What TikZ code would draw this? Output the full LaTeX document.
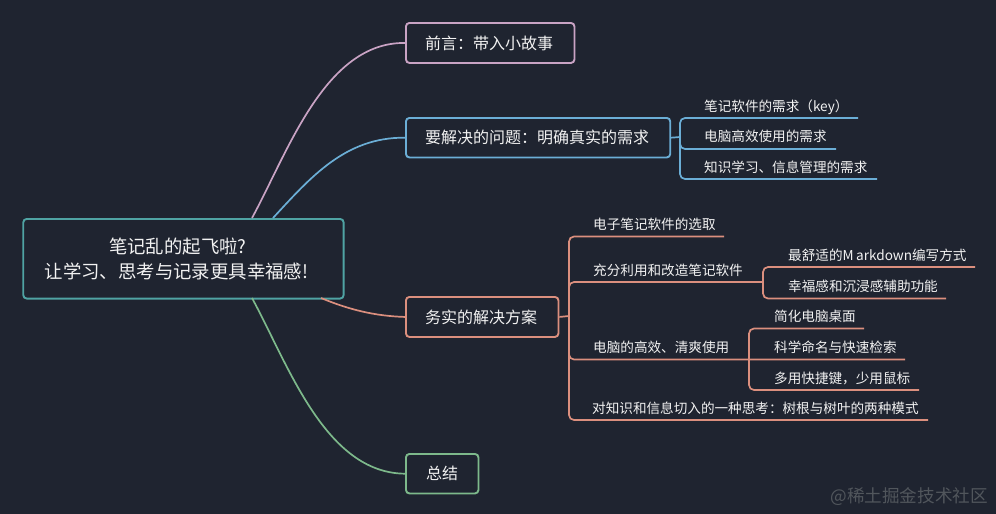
\documentclass[tikz,border=0pt]{standalone}
\usepackage{fontspec}
\setmainfont{Noto Sans CJK SC}[BoldFont={Noto Sans CJK SC}]
\definecolor{bgc}{HTML}{1F2430}
\definecolor{tealc}{HTML}{4FA3A3}
\definecolor{pinkc}{HTML}{C9A3C4}
\definecolor{bluec}{HTML}{6BAED6}
\definecolor{salmonc}{HTML}{DB8F7E}
\definecolor{greenc}{HTML}{7DB98B}
\definecolor{txtc}{HTML}{F2F2F2}
\definecolor{markc}{HTML}{51565C}
\tikzset{
  x=1pt,y=-1pt,
  topicbox/.style={draw,line width=1.9pt,rounded corners=3.5pt,text=txtc,font=\fontsize{16}{20}\selectfont,inner sep=0pt,anchor=north west,align=center},
  sublabel/.style={text=txtc,font=\fontsize{13.6}{16}\selectfont,inner sep=0pt,anchor=west,text height=12pt,text depth=1.8pt},
  curveline/.style={line width=1.7pt},
  branchline/.style={line width=1.7pt,rounded corners=5pt},
}
\begin{document}
\begin{tikzpicture}
\useasboundingbox (0,0) rectangle (996,514);
\fill[bgc] (0,0) rectangle (996,514);

% topic boxes
\node[topicbox,draw=tealc,minimum width=320.4pt,minimum height=79.6pt,font=\fontsize{18.4}{25}\selectfont] (root) at (22.3,218) {笔记乱的起飞啦?\hspace*{11pt}\\让学习、思考与记录更具幸福感!\hspace*{14pt}};
\node[topicbox,draw=pinkc,minimum width=168.5pt,minimum height=40pt] (n1) at (405,22) {前言：带入小故事\hspace*{2pt}};
\node[topicbox,draw=bluec,minimum width=264.3pt,minimum height=39.5pt] (n2) at (405,117) {要解决的问题：明确真实的需求\hspace*{2pt}};
\node[topicbox,draw=salmonc,minimum width=152.5pt,minimum height=40pt] (n3) at (405,296) {务实的解决方案\hspace*{2pt}};
\node[topicbox,draw=greenc,minimum width=72.5pt,minimum height=39.5pt] (n4) at (405,453) {总结};

% root connectors
\coordinate (r1) at (252,218);
\coordinate (r2) at (273,218);
\coordinate (r3) at (321,298);
\coordinate (r4) at (252,298);
\draw[curveline,pinkc] (r1) .. controls (288,152) and (325,42) .. (n1.west);
\draw[curveline,bluec] (r2) .. controls (310,178) and (345,137) .. (n2.west);
\draw[curveline,salmonc] (r3) .. controls (350,310) and (375,316) .. (n3.west);
\draw[curveline,greenc] (r4) .. controls (288,364) and (325,473) .. (n4.west);

% labels of n2
\node[sublabel] (a1) at (704,106) {笔记软件的需求（key）};
\node[sublabel] (a2) at (704,136) {电脑高效使用的需求};
\node[sublabel] (a3) at (704,167) {知识学习、信息管理的需求};
\coordinate (b2) at (680,137);
\coordinate (a1e) at (858,118);
\coordinate (a2e) at (836,149);
\coordinate (a3e) at (877,179);
\draw[curveline,bluec] (n2.east) -- (b2);
\draw[branchline,bluec] (b2) |- (a1e);
\draw[branchline,bluec] (b2) |- (a2e);
\draw[branchline,bluec] (b2) |- (a3e);

% labels of n3
\node[sublabel] (c1) at (593,224) {电子笔记软件的选取};
\node[sublabel] (c2) at (593,270) {充分利用和改造笔记软件};
\node[sublabel] (c3) at (593,347) {电脑的高效、清爽使用};
\node[sublabel] (c4) at (592,408) {对知识和信息切入的一种思考：树根与树叶的两种模式};
\coordinate (b3) at (569,316);
\coordinate (c1e) at (724,236.5);
\coordinate (c2e) at (763,282);
\coordinate (c3e) at (905,359.5);
\coordinate (c4e) at (928,420);
\draw[curveline,salmonc] (n3.east) -- (b3);
\draw[branchline,salmonc] (b3) |- (c1e);
\draw[branchline,salmonc] (b3) |- (c2e);
\draw[branchline,salmonc] (b3) |- (c3e);
\draw[branchline,salmonc] (b3) |- (c4e);

% labels of c2
\node[sublabel] (d1) at (788,255) {最舒适的M\hspace{2.5pt}arkdown编写方式};
\node[sublabel] (d2) at (788,286) {幸福感和沉浸感辅助功能};
\coordinate (d1e) at (975,267);
\coordinate (d2e) at (946,298.5);
\draw[branchline,salmonc] (c2e) |- (d1e);
\draw[branchline,salmonc] (c2e) |- (d2e);

% labels of c3
\node[sublabel] (e1) at (774,316) {简化电脑桌面};
\node[sublabel] (e2) at (774,347) {科学命名与快速检索};
\node[sublabel] (e3) at (774,378) {多用快捷键，少用鼠标};
\coordinate (b5) at (749,359.5);
\coordinate (e1e) at (864,328.5);
\coordinate (e3e) at (919,390);
\draw[branchline,salmonc] (b5) |- (e1e);
\draw[branchline,salmonc] (b5) |- (e3e);

% watermark
\node[text=markc,font=\fontsize{17.6}{22}\selectfont,inner sep=0pt,anchor=east] (wm) at (988,496.5) {@稀土掘金技术社区};
\end{tikzpicture}
\end{document}
